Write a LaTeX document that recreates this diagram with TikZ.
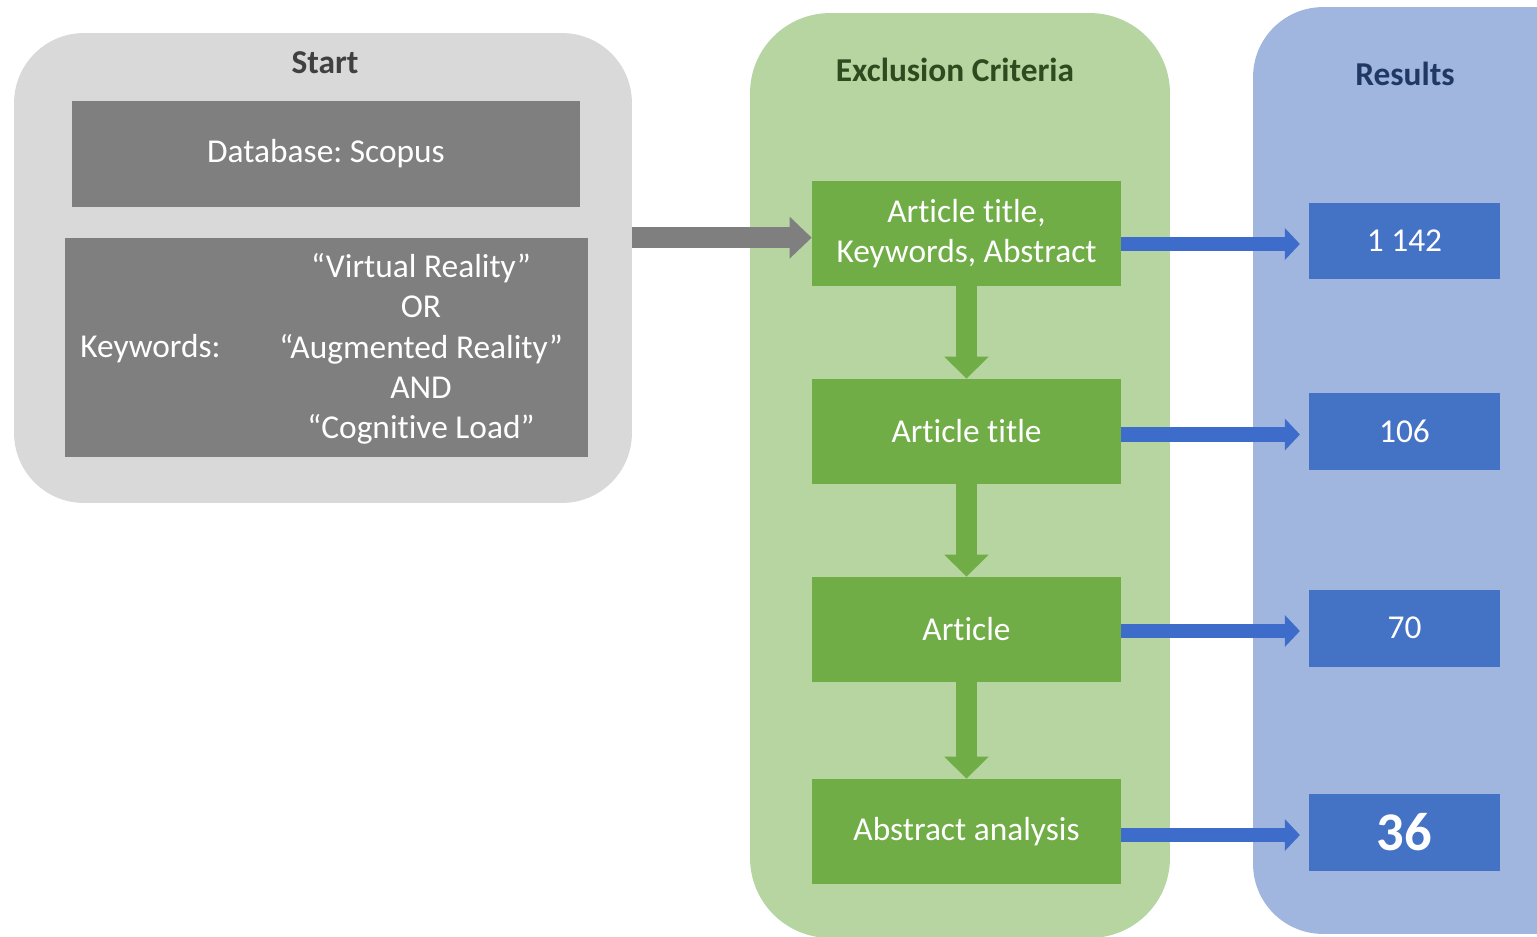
\documentclass[tikz,border=0pt]{standalone}
\usepackage{fontspec}
\setmainfont{Carlito}[Ligatures=NoCommon]
\usepackage{tikz}
\usetikzlibrary{
    arrows.meta,
    positioning,
    calc
}
\frenchspacing

\definecolor{panelgray}{HTML}{D9D9D9}
\definecolor{boxgray}{HTML}{7F7F7F}
\definecolor{panelgreen}{HTML}{B6D5A1}
\definecolor{boxgreen}{HTML}{70AD47}
\definecolor{panelblue}{HTML}{A0B6DF}
\definecolor{boxblue}{HTML}{4472C4}
\definecolor{arrowblue}{HTML}{3D6CCB}
\definecolor{titlegray}{HTML}{404040}
\definecolor{titlegreen}{HTML}{2F4A1E}
\definecolor{titleblue}{HTML}{1F3864}

\begin{document}
\begin{tikzpicture}[x=0.02cm, y=-0.02cm,
    panel/.style={rounded corners=1.4cm, inner sep=0pt},
    txt/.style={font={\fontsize{19}{23}\selectfont}, text=white},
    title/.style={font={\fontsize{19}{22}\selectfont\bfseries}},
    graybox/.style={txt, fill=boxgray, inner sep=0pt, align=center},
    critbox/.style={txt, fill=boxgreen, minimum width=6.18cm, minimum height=2.1cm, inner sep=0pt, align=center},
    resbox/.style={txt, fill=boxblue, minimum width=3.82cm, minimum height=1.54cm, inner sep=0pt},
    grayarrow/.style={draw=boxgray, line width=12pt, -{Triangle[width=23pt, length=12.5pt]}},
    greenarrow/.style={draw=boxgreen, line width=12.5pt, -{Triangle[width=24.5pt, length=12.5pt]}},
    bluearrow/.style={draw=arrowblue, line width=8.5pt, -{Triangle[width=17.5pt, length=8.5pt]}, shorten >=5pt}
]

\clip (0,0) rectangle (1537,936);
\fill[white] (0,0) rectangle (1537,936);

% background panels
\node[panel, fill=panelgray, minimum width=12.36cm, minimum height=9.4cm] (startpanel) at (323,268) {};
\node[panel, fill=panelgreen, rounded corners=1.6cm, minimum width=8.4cm, minimum height=18.5cm] (critpanel) at (960,475.5) {};
\node[panel, fill=panelblue, minimum width=7.34cm, minimum height=18.54cm] (respanel) at (1436.5,470.5) {};

% panel titles
\node[title, text=titlegray] (starttitle) at (325,63) {Start};
\node[title, text=titlegreen] (crittitle) at (955,70) {Exclusion Criteria};
\node[title, text=titleblue] (restitle) at (1405,74) {Results};

% search setup
\node[graybox, minimum width=10.16cm, minimum height=2.12cm] (db) at (326,154) {Database: Scopus};
\node[graybox, minimum width=10.46cm, minimum height=4.38cm] (kw) at (326.5,347.5) {};
\node[txt, anchor=west, inner sep=0pt] (kwlabel) at (80,349) {Keywords:};
\node[txt, align=center] (kwterms) at (421,349)
    {“Virtual Reality”\\OR\\“Augmented Reality”\\AND\\“Cognitive Load”};

% screening steps
\node[critbox] (crit1) at (966.5,233.5) {Article title,\\Keywords, Abstract};
\node[critbox] (crit2) at (966.5,431.5) {Article title};
\node[critbox] (crit3) at (966.5,629.5) {Article};
\node[critbox] (crit4) at (966.5,831.5) {Abstract analysis};

% counts
\node[resbox] (res1) at (1404.5,241) {1 142};
\node[resbox] (res2) at (1404.5,431.5) {106};
\node[resbox] (res3) at (1404.5,628) {70};
\node[resbox, font={\fontsize{31}{34}\selectfont\bfseries}] (res4) at (1404.5,832) {36};

% arrows
\draw[grayarrow] (startpanel.east |- kw.north) -- (crit1.west |- kw.north);
\foreach \a/\b in {crit1/crit2, crit2/crit3, crit3/crit4}
    \draw[greenarrow] (\a.south) -- (\b.north);
\foreach \i in {1,...,4}
    \draw[bluearrow] (crit\i.east |- res\i.west) ++(0,3) -- ($(res\i.west)+(0,3)$);

\end{tikzpicture}
\end{document}
